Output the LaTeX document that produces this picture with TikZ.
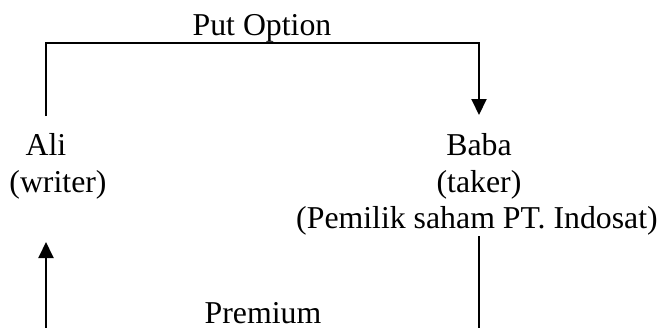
\documentclass[tikz,border=0pt]{standalone}
\usepackage{fontspec}
\setmainfont{Liberation Serif}
\usetikzlibrary{arrows.meta}
\begin{document}
\begin{tikzpicture}[x=1pt,y=-1pt,
  txt/.style={anchor=base, inner sep=0pt, font=\fontsize{31.8}{36.5}\selectfont},
  conn/.style={line width=2pt},
  arr/.style={conn, -{Triangle[length=16pt,width=15pt]}}]
\useasboundingbox (0,0) rectangle (664,327);
% labels
\node[txt] (put) at (262,35) {Put Option};
\node[txt] (ali) at (46,155) {Ali};
\node[txt] (writer) at (58,192) {(writer)};
\node[txt] (baba) at (479,155) {Baba};
\node[txt] (taker) at (479,192) {(taker)};
\node[txt] (pemilik) at (477,228) {(Pemilik saham PT. Indosat)};
\node[txt] (premium) at (263,323) {Premium};
% connector ends
\coordinate (alitop) at (ali.base |- 0,116);
\coordinate (babatop) at (baba.base |- 0,115);
\coordinate (topright) at (baba.base |- 0,43);
\coordinate (alibot) at (ali.base |- 0,242);
\coordinate (leftend) at (ali.base |- 0,330);
\coordinate (bababot) at (baba.base |- 0,236);
\coordinate (rightend) at (baba.base |- 0,330);
% connectors
\draw[arr] (alitop) |- (topright) -- (babatop);
\draw[arr] (leftend) -- (alibot);
\draw[conn] (bababot) -- (rightend);
\end{tikzpicture}
\end{document}
